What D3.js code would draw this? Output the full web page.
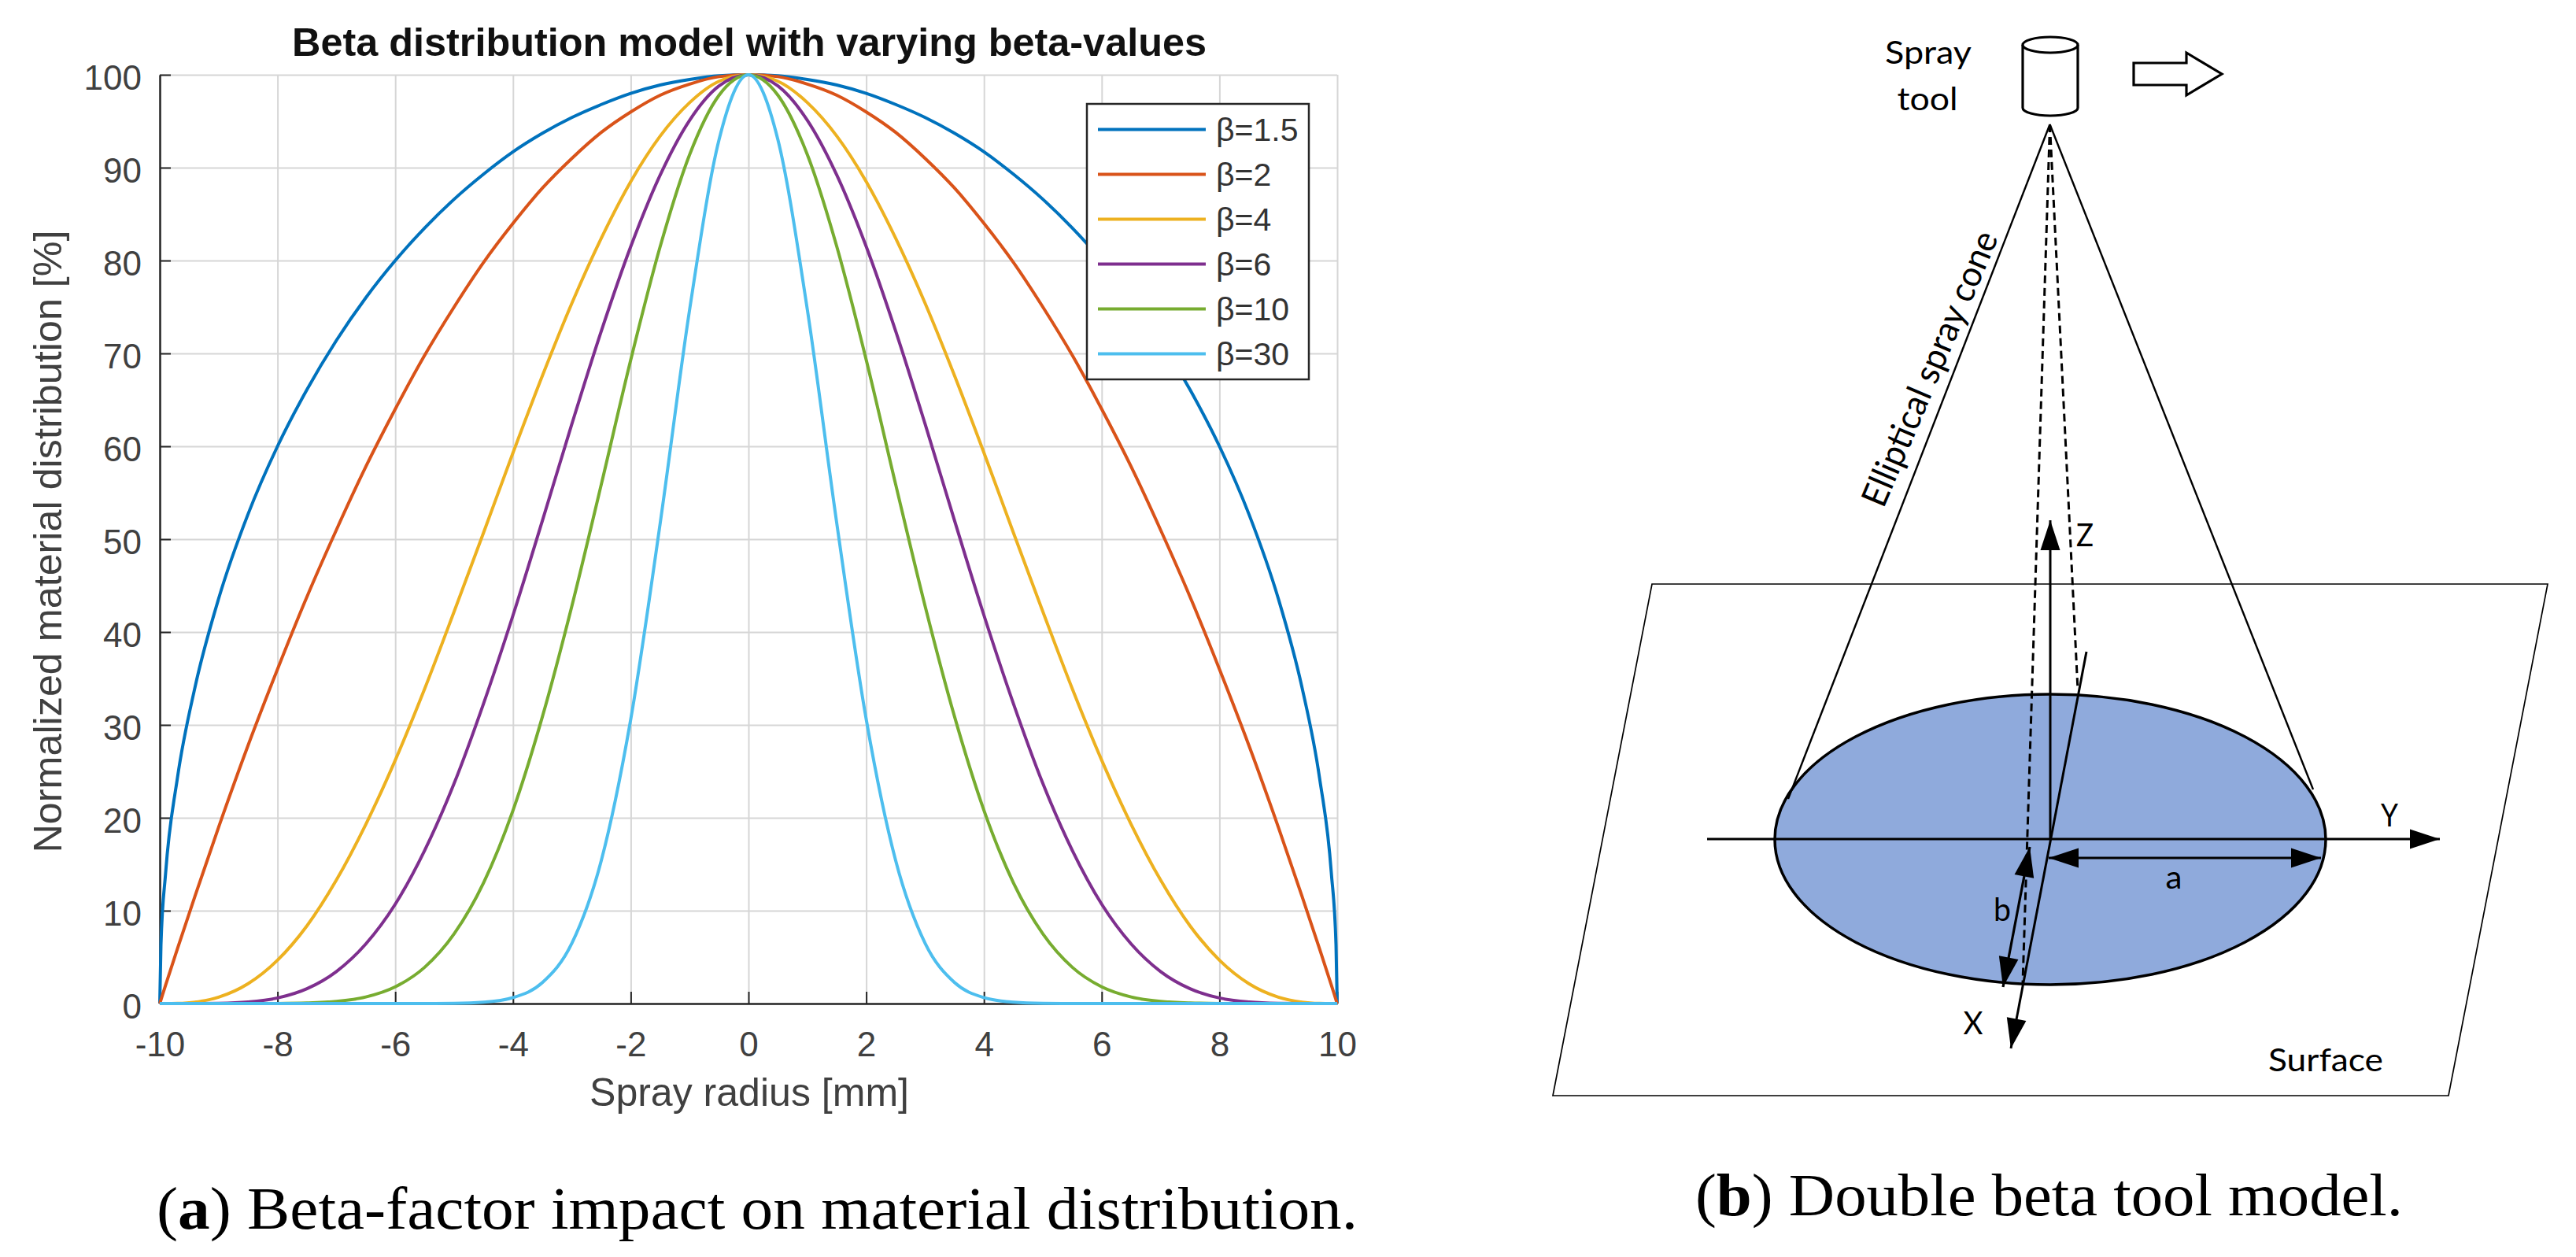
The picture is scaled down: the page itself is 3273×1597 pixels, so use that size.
<!DOCTYPE html>
<html>
<head>
<meta charset="utf-8">
<script src="https://cdn.jsdelivr.net/npm/d3@7"></script>
<style>
  html, body { margin: 0; padding: 0; background: #fff; }
  svg { display: block; }
  text { font-family: "Liberation Sans", Arial, sans-serif; }
  .diagram-text { font-family: Lato, "Open Sans", sans-serif; fill: #000; }
  .caption { font-family: "Liberation Serif", serif; fill: #000; }
</style>
</head>
<body>
<script>
// values
var radius = [-10,-9.98,-9.9,-9.7,-9.4,-9,-8.5,-8,-7.5,-7,-6.5,-6,-5.5,-5,-4.5,-4,-3.5,-3,-2.5,-2,-1.5,-1,-0.5,0,
  0.5,1,1.5,2,2.5,3,3.5,4,4.5,5,5.5,6,6.5,7,7.5,8,8.5,9,9.4,9.7,9.9,9.98,10];
var beta15 = [0,6.3,14.1,24.3,34.1,43.6,52.7,60,66.1,71.4,76,80,83.5,86.6,89.3,91.7,93.7,95.4,96.8,98,98.9,99.5,99.9,100,
  99.9,99.5,98.9,98,96.8,95.4,93.7,91.7,89.3,86.6,83.5,80,76,71.4,66.1,60,52.7,43.6,34.1,24.3,14.1,6.3,0];
var beta2 = [0,0.4,2,5.9,11.6,19,27.8,36,43.8,51,57.8,64,69.8,75,79.8,84,87.8,91,93.8,96,97.8,99,99.8,100,
  99.8,99,97.8,96,93.8,91,87.8,84,79.8,75,69.8,64,57.8,51,43.8,36,27.8,19,11.6,5.9,2,0.4,0];
var beta4 = [0,0,0,0.02,0.16,0.69,2.14,4.67,8.37,13.3,19.3,26.2,33.9,42.2,50.7,59.3,67.6,75.4,82.4,88.5,93.4,97,99.3,100,
  99.3,97,93.4,88.5,82.4,75.4,67.6,59.3,50.7,42.2,33.9,26.2,19.3,13.3,8.37,4.67,2.14,0.69,0.16,0.02,0,0,0];
var beta6 = [0,0,0,0,0,0.02,0.16,0.6,1.6,3.45,6.42,10.7,16.5,23.7,32.3,41.8,52,62.4,72.4,81.5,89.2,95.1,98.8,100,
  98.8,95.1,89.2,81.5,72.4,62.4,52,41.8,32.3,23.7,16.5,10.7,6.42,3.45,1.6,0.6,0.16,0.02,0,0,0,0,0];
var beta10 = [0,0,0,0,0,0,0,0.01,0.06,0.23,0.71,1.8,3.91,7.51,13,20.8,30.9,42.8,55.9,69.3,81.5,91.4,97.8,100,
  97.8,91.4,81.5,69.3,55.9,42.8,30.9,20.8,13,7.51,3.91,1.8,0.71,0.23,0.06,0.01,0,0,0,0,0,0,0];
var beta30 = [0,0,0,0,0,0,0,0,0,0,0,0,0,0.02,0.14,0.64,2.26,6.49,15.4,30.6,51.7,74.7,93,100,
  93,74.7,51.7,30.6,15.4,6.49,2.26,0.64,0.14,0.02,0,0,0,0,0,0,0,0,0,0,0,0,0];

var seriesNames = ["β=1.5", "β=2", "β=4", "β=6", "β=10", "β=30"];
var seriesValues = [beta15, beta2, beta4, beta6, beta10, beta30];
var seriesColors = ["#0072BD", "#D95319", "#EDB120", "#7E2F8E", "#77AC30", "#4DBEEE"];
var xTicks = [-10,-8,-6,-4,-2,0,2,4,6,8,10];
var yTicks = [0,10,20,30,40,50,60,70,80,90,100];

var width = 3273;
var height = 1597;
var plotLeft = 203;
var plotRight = 1699;
var plotTop = 95;
var plotBottom = 1275;

var svg = d3.select("body").append("svg")
  .attr("width", width)
  .attr("height", height)
  .attr("viewBox", "0 0 " + width + " " + height);

var xScale = d3.scaleLinear().domain([-10, 10]).range([plotLeft, plotRight]);
var yScale = d3.scaleLinear().domain([0, 100]).range([plotBottom, plotTop]);

// grid lines first, they sit under everything
svg.append("g")
  .attr("transform", "translate(0," + plotBottom + ")")
  .call(d3.axisBottom(xScale).tickValues(xTicks).tickSize(-(plotBottom - plotTop)).tickFormat(""))
  .call(g => g.select(".domain").remove())
  .selectAll("line").attr("stroke", "#d6d6d6").attr("stroke-width", 2);

svg.append("g")
  .attr("transform", "translate(" + plotLeft + ",0)")
  .call(d3.axisLeft(yScale).tickValues(yTicks).tickSize(-(plotRight - plotLeft)).tickFormat(""))
  .call(g => g.select(".domain").remove())
  .selectAll("line").attr("stroke", "#d6d6d6").attr("stroke-width", 2);

// axes, plain hyphen on the negative ticks like the original
var xAxis = svg.append("g")
  .attr("transform", "translate(0," + plotBottom + ")")
  .call(d3.axisBottom(xScale).tickValues(xTicks).tickSizeInner(-15).tickSizeOuter(0).tickPadding(36).tickFormat(d => String(d)));

var yAxis = svg.append("g")
  .attr("transform", "translate(" + plotLeft + ",0)")
  .call(d3.axisLeft(yScale).tickValues(yTicks).tickSizeInner(-14).tickSizeOuter(0).tickPadding(23).tickFormat(d => String(d)));

[xAxis, yAxis].forEach(function(axis) {
  axis.select(".domain").attr("stroke", "#262626").attr("stroke-width", 2.5);
  axis.selectAll(".tick line").attr("stroke", "#262626").attr("stroke-width", 2);
  axis.selectAll("text")
    .attr("font-family", "Liberation Sans")
    .attr("font-size", 44)
    .attr("fill", "#404040");
});
xAxis.selectAll(".tick text").attr("dy", "0.71em");
yAxis.selectAll(".tick text").attr("dy", "0.42em");

// curves
var line = d3.line()
  .x(d => xScale(d[0]))
  .y(d => yScale(d[1]))
  .curve(d3.curveMonotoneX);

svg.append("g").selectAll("path")
  .data(seriesValues)
  .enter()
    .append("path")
    .attr("d", values => line(values.map((v, i) => [radius[i], v])))
    .attr("fill", "none")
    .attr("stroke-width", 4)
    .attr("stroke", (d, i) => seriesColors[i]);

// titles
svg.append("text")
  .attr("x", (371 + 1533) / 2)
  .attr("y", 71)
  .attr("text-anchor", "middle")
  .attr("font-size", 50)
  .attr("font-weight", "bold")
  .attr("fill", "#111")
  .attr("textLength", 1162)
  .attr("lengthAdjust", "spacingAndGlyphs")
  .text("Beta distribution model with varying beta-values");

svg.append("text")
  .attr("x", 952)
  .attr("y", 1405)
  .attr("text-anchor", "middle")
  .attr("font-size", 50)
  .attr("fill", "#404040")
  .attr("textLength", 406)
  .attr("lengthAdjust", "spacingAndGlyphs")
  .text("Spray radius [mm]");

svg.append("text")
  .attr("transform", "translate(78,688) rotate(-90)")
  .attr("text-anchor", "middle")
  .attr("font-size", 50)
  .attr("fill", "#404040")
  .attr("textLength", 791)
  .attr("lengthAdjust", "spacingAndGlyphs")
  .text("Normalized material distribution [%]");

// legend
var legend = svg.append("g");

legend.append("rect")
  .attr("x", 1381)
  .attr("y", 132)
  .attr("width", 282)
  .attr("height", 350)
  .attr("fill", "#fff")
  .attr("stroke", "#262626")
  .attr("stroke-width", 2.5);

seriesNames.forEach(function(name, i) {
  var rowY = 164.5 + i * 57;
  legend.append("line")
    .attr("x1", 1395)
    .attr("x2", 1532)
    .attr("y1", rowY)
    .attr("y2", rowY)
    .attr("stroke", seriesColors[i])
    .attr("stroke-width", 4);
  legend.append("text")
    .attr("x", 1545)
    .attr("y", rowY + 14)
    .attr("font-size", 41)
    .attr("fill", "#333")
    .text(name);
});

// panel b is a sketch, not data: its shapes are placed in picture pixels
var surfaceCorners = [[2099,742],[3237,742],[3111,1392],[1973,1392]];
var coneEdges = [[[2604.5,158],[2272,1015]], [[2604.5,158],[2939,1003]]];
var dashedEdges = [[[2604.5,158],[2570,1249]], [[2604.5,158],[2640,877]]];
var toolArrow = [[2711,80],[2778,80],[2778,67],[2823,94],[2778,121],[2778,108],[2711,108]];
var cylinderSide = "M2570,57 L2570,137 A35,10 0 0 0 2640,137 L2640,57";

var sketch = svg.append("g");
var path = d3.line();

sketch.append("path")
  .attr("d", path(surfaceCorners) + "Z")
  .attr("fill", "none")
  .attr("stroke", "#000")
  .attr("stroke-width", 1.7);

sketch.append("ellipse")
  .attr("cx", 2605)
  .attr("cy", 1066.5)
  .attr("rx", 350)
  .attr("ry", 184.5)
  .attr("fill", "#8FAADC")
  .attr("stroke", "#000")
  .attr("stroke-width", 3.5);

// cone goes over the ellipse so it reaches the rim
coneEdges.forEach(function(edge) {
  sketch.append("path").attr("d", path(edge)).attr("fill", "none").attr("stroke", "#000").attr("stroke-width", 2.4);
});

dashedEdges.forEach(function(edge) {
  sketch.append("path")
    .attr("d", path(edge))
    .attr("fill", "none")
    .attr("stroke", "#000")
    .attr("stroke-width", 3)
    .attr("stroke-dasharray", "10,6");
});

// spray tool
sketch.append("path")
  .attr("d", cylinderSide)
  .attr("fill", "none")
  .attr("stroke", "#000")
  .attr("stroke-width", 3.2);
sketch.append("ellipse")
  .attr("cx", 2605)
  .attr("cy", 57)
  .attr("rx", 35)
  .attr("ry", 10)
  .attr("fill", "#fff")
  .attr("stroke", "#000")
  .attr("stroke-width", 3.2);
sketch.append("path")
  .attr("d", path(toolArrow) + "Z")
  .attr("fill", "#fff")
  .attr("stroke", "#000")
  .attr("stroke-width", 3.2);

function drawHead(tip, from, length, halfWidth) {
  var dx = tip[0] - from[0];
  var dy = tip[1] - from[1];
  var d = Math.sqrt(dx * dx + dy * dy);
  var ux = dx / d;
  var uy = dy / d;
  var bx = tip[0] - ux * length;
  var by = tip[1] - uy * length;
  sketch.append("path")
    .attr("d", path([tip, [bx - uy * halfWidth, by + ux * halfWidth], [bx + uy * halfWidth, by - ux * halfWidth]]) + "Z")
    .attr("fill", "#000");
}

function drawArrow(from, to, strokeWidth, doubleHead) {
  sketch.append("path")
    .attr("d", path([from, to]))
    .attr("fill", "none")
    .attr("stroke", "#000")
    .attr("stroke-width", strokeWidth);
  drawHead(to, from, 38, 12.5);
  if (doubleHead) drawHead(from, to, 38, 12.5);
}

drawArrow([2169,1066], [3100,1066], 3, false);   // Y
drawArrow([2605,1066], [2605,661], 3, false);    // Z
drawArrow([2651,828], [2555,1332], 3, false);    // X
drawArrow([2603,1090], [2949,1090], 3.2, true);  // a
drawArrow([2579,1076], [2545,1254], 3.2, true);  // b

var sketchLabels = [
  { text: "Spray", x: 2450, y: 81, size: 41, length: 110 },
  { text: "tool", x: 2449, y: 140, size: 41, length: 77 },
  { text: "Z", x: 2649, y: 694, size: 41, length: 22 },
  { text: "Y", x: 3036, y: 1050, size: 41, length: 22 },
  { text: "a", x: 2762, y: 1129, size: 41, length: 21 },
  { text: "b", x: 2544, y: 1170, size: 41, length: 22 },
  { text: "X", x: 2507, y: 1314, size: 41, length: 25 },
  { text: "Surface", x: 2955, y: 1361, size: 41, length: 146 }
];

sketch.selectAll(".diagram-text")
  .data(sketchLabels)
  .enter()
    .append("text")
    .attr("class", "diagram-text")
    .attr("x", d => d.x)
    .attr("y", d => d.y)
    .attr("text-anchor", "middle")
    .attr("font-size", d => d.size)
    .attr("textLength", d => d.length)
    .attr("lengthAdjust", "spacingAndGlyphs")
    .text(d => d.text);

sketch.append("text")
  .attr("class", "diagram-text")
  .attr("transform", "translate(2393,647) rotate(-67)")
  .attr("font-size", 45)
  .attr("textLength", 375)
  .attr("lengthAdjust", "spacingAndGlyphs")
  .text("Elliptical spray cone");

// captions
function caption(x, y, letter, rest, length) {
  var t = svg.append("text")
    .attr("class", "caption")
    .attr("x", x)
    .attr("y", y)
    .attr("font-size", 76)
    .attr("textLength", length)
    .attr("lengthAdjust", "spacingAndGlyphs");
  t.append("tspan").text("(");
  t.append("tspan").attr("font-weight", "bold").text(letter);
  t.append("tspan").text(") " + rest);
}

caption(199, 1561, "a", "Beta-factor impact on material distribution.", 1526);
caption(2154, 1544, "b", "Double beta tool model.", 899);
</script>
</body>
</html>
